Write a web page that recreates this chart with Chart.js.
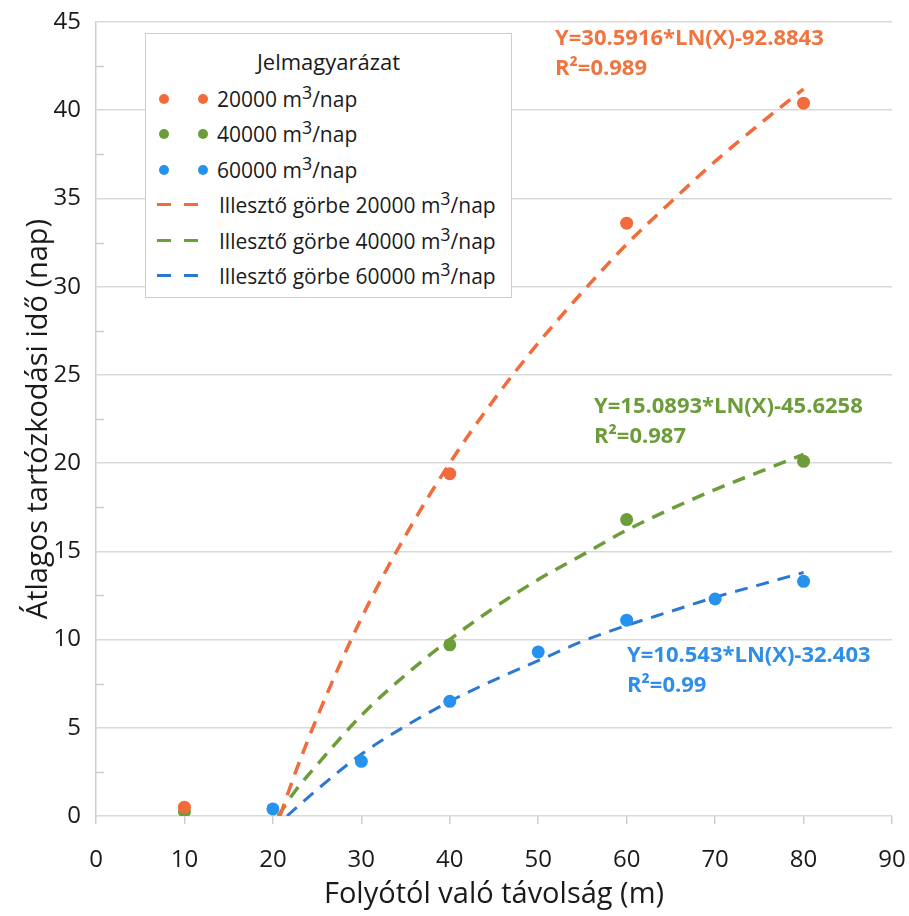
<!DOCTYPE html>
<html>
<head>
<meta charset="utf-8">
<script src="https://cdn.jsdelivr.net/npm/chart.js@4.4.0/dist/chart.umd.min.js"></script>
<style>
  html, body { margin: 0; padding: 0; background: #fff; }
  #wrap { position: relative; width: 909px; height: 916px; }
  #legend {
    position: absolute; left: 145px; top: 33px; width: 367px; height: 265px;
    box-sizing: border-box; border: 1.5px solid #cdcdcd; background: #fff;
    font-family: "Open Sans"; font-size: 21px; color: #1a1a1a;
  }
  #legend .ttl { position: absolute; left: 0; right: 0; top: 12px; text-align: center; font-size: 22px; }
  #legend .row { position: absolute; left: 0; height: 30px; line-height: 30px; white-space: nowrap; }
  #legend .row span.txt { position: absolute; top: 0; }
  #legend .dot { position: absolute; top: 10px; width: 10px; height: 10px; border-radius: 50%; }
  #legend .dash { position: absolute; top: 13px; width: 14px; height: 3px; }
  #legend sup { font-size: 0.85em; vertical-align: 0; position: relative; top: -0.45em; }
</style>
</head>
<body>
<div id="wrap">
  <canvas id="myChart" width="909" height="916"></canvas>
  <div id="legend"></div>
</div>
<script>
// measured points (m, days)
const xOrange = [10, 40, 60, 80];
const yOrange = [0.5, 19.4, 33.6, 40.4];
const xGreen = [10, 40, 60, 80];
const yGreen = [0.25, 9.7, 16.8, 20.1];
const xBlue = [20, 30, 40, 50, 60, 70, 80];
const yBlue = [0.4, 3.1, 6.5, 9.3, 11.1, 12.3, 13.3];

// dashed fit curves
const fitXOrange = [20.8, 22.5, 25, 30, 35, 40, 45, 50, 55, 60, 65, 70, 75, 80];
const fitYOrange = [0, 2.4, 5.6, 11.2, 15.9, 20.0, 23.6, 26.8, 29.7, 32.4, 34.8, 37.1, 39.2, 41.2];
const fitXGreen = [20.6, 22.5, 25, 30, 35, 40, 45, 50, 55, 60, 65, 70, 75, 80];
const fitYGreen = [0, 1.4, 2.9, 5.7, 8.0, 10.0, 11.8, 13.4, 14.8, 16.2, 17.4, 18.5, 19.5, 20.5];
const fitXBlue = [21.6, 22.5, 25, 30, 35, 40, 45, 50, 55, 60, 65, 70, 75, 80];
const fitYBlue = [0, 0.4, 1.5, 3.5, 5.1, 6.5, 7.7, 8.8, 9.9, 10.8, 11.6, 12.4, 13.1, 13.8];

const seriesNames = ["20000 m3/nap", "40000 m3/nap", "60000 m3/nap"];
const fitNames = ["Illesztő görbe 20000 m3/nap", "Illesztő görbe 40000 m3/nap", "Illesztő görbe 60000 m3/nap"];
const equations = [
  ["Y=30.5916*LN(X)-92.8843", "R²=0.989"],
  ["Y=15.0893*LN(X)-45.6258", "R²=0.987"],
  ["Y=10.543*LN(X)-32.403", "R²=0.99"]
];

const ptColors = ["#F26B3A", "#6C9D3A", "#2592EE"];
const lineColors = ["#F26B3A", "#6C9D3A", "#2A78D2"];
const lineWidths = [3.5, 3.5, 3];
const textColors = ["#F0743F", "#6C9D3A", "#2F8FE8"];

const FONT = "Open Sans";

function pts(xs, ys) {
  return xs.map((x, i) => ({x: x, y: ys[i]}));
}

function scatterSet(i, xs, ys) {
  return {
    type: "scatter", label: seriesNames[i], data: pts(xs, ys),
    backgroundColor: ptColors[i], borderColor: ptColors[i],
    pointRadius: 6.5, pointBorderWidth: 0, order: 1
  };
}
function fitSet(i, xs, ys) {
  return {
    type: "line", label: fitNames[i], data: pts(xs, ys),
    borderColor: lineColors[i], borderWidth: lineWidths[i], borderDash: [13, 9],
    pointRadius: 0, fill: false, cubicInterpolationMode: "monotone", order: 2
  };
}

// equation labels (pixel anchor: left, first baseline)
const eqPos = [[555, 45], [594, 413], [627, 662]];

const extras = {
  id: "extras",
  afterDraw(chart) {
    const ctx = chart.ctx;
    const y = chart.scales.y;
    // small minor ticks inside the y axis
    ctx.save();
    ctx.strokeStyle = "#cdcdcd";
    ctx.lineWidth = 1.5;
    for (let v = 2.5; v < 45; v += 5) {
      const py = Math.round(y.getPixelForValue(v)) + 0.5;
      ctx.beginPath();
      ctx.moveTo(y.right, py);
      ctx.lineTo(y.right + 8, py);
      ctx.stroke();
    }
    ctx.font = "bold 22px '" + FONT + "'";
    ctx.textBaseline = "alphabetic";
    equations.forEach((lines, i) => {
      ctx.fillStyle = textColors[i];
      lines.forEach((t, k) => ctx.fillText(t, eqPos[i][0], eqPos[i][1] + k * 30));
    });
    ctx.restore();
  }
};

const chart = new Chart("myChart", {
  data: {
    datasets: [
      scatterSet(0, xOrange, yOrange),
      scatterSet(1, xGreen, yGreen),
      scatterSet(2, xBlue, yBlue),
      fitSet(0, fitXOrange, fitYOrange),
      fitSet(1, fitXGreen, fitYGreen),
      fitSet(2, fitXBlue, fitYBlue)
    ]
  },
  options: {
    responsive: false,
    animation: false,
    devicePixelRatio: 1,
    layout: {padding: {top: 22, right: 17, left: 0, bottom: 0}},
    plugins: {legend: {display: false}, tooltip: {enabled: false}},
    scales: {
      x: {
        type: "linear", min: 0, max: 90,
        ticks: {stepSize: 10, color: "#1a1a1a", font: {family: FONT, size: 24}, padding: 22},
        grid: {drawOnChartArea: false, drawTicks: true, tickLength: 8, color: "#cdcdcd", lineWidth: 1.5},
        border: {display: false},
        title: {display: true, text: "Folyótól való távolság (m)", color: "#1a1a1a",
                font: {family: FONT, size: 29}, padding: {top: 0, bottom: 4}},
        afterFit(s) { s.height = 100; s.paddingLeft = 0; s.paddingRight = 0; }
      },
      y: {
        min: 0, max: 45,
        ticks: {stepSize: 5, color: "#1a1a1a", font: {family: FONT, size: 24}, padding: 15},
        grid: {drawTicks: false, color: "#d9d9d9", lineWidth: 1.5},
        border: {display: true, color: "#cdcdcd", width: 1.5},
        title: {display: true, text: "Átlagos tartózkodási idő (nap)", color: "#1a1a1a",
                font: {family: FONT, size: 29}, padding: {top: 21, bottom: 0}},
        afterFit(s) { s.width = 96; s.paddingTop = 0; s.paddingBottom = 0; }
      }
    }
  },
  plugins: [extras]
});

// html legend so the m3 can have a real superscript
function supHtml(s) {
  return s.replace("m3", "m<sup>3</sup>");
}
const legend = document.getElementById("legend");
let html = '<div class="ttl">Jelmagyarázat</div>';
const rowTop = 50;
const rowStep = 35.4;
chart.data.datasets.forEach((ds, i) => {
  const top = rowTop + i * rowStep;
  if (ds.type === "scatter") {
    html += '<div class="row" style="top:' + top + 'px">' +
      '<span class="dot" style="left:13px;background:' + ds.backgroundColor + '"></span>' +
      '<span class="dot" style="left:52px;background:' + ds.backgroundColor + '"></span>' +
      '<span class="txt" style="left:71px">' + supHtml(ds.label) + '</span></div>';
  } else {
    html += '<div class="row" style="top:' + top + 'px">' +
      '<span class="dash" style="left:11px;background:' + ds.borderColor + '"></span>' +
      '<span class="dash" style="left:38px;background:' + ds.borderColor + '"></span>' +
      '<span class="txt" style="left:73px">' + supHtml(ds.label) + '</span></div>';
  }
});
legend.innerHTML = html;
</script>
</body>
</html>
